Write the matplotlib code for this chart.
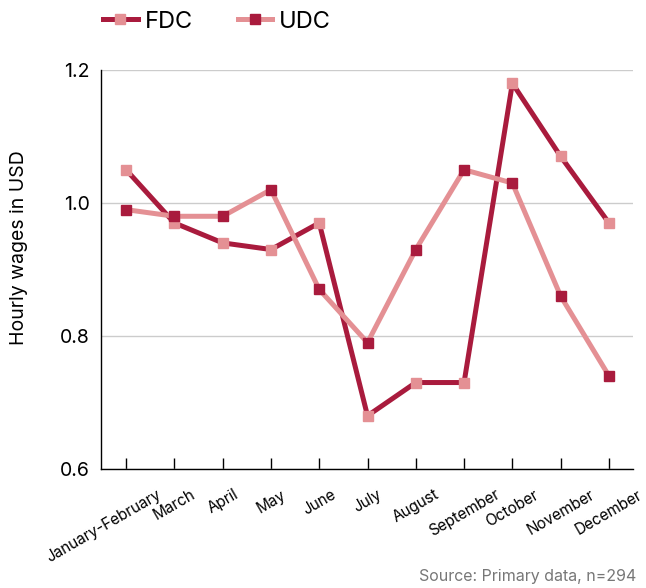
import matplotlib
matplotlib.use("Agg")
import matplotlib.pyplot as plt
from matplotlib.lines import Line2D
import matplotlib.transforms as mtransforms

months = ["January-February", "March", "April", "May", "June", "July",
          "August", "September", "October", "November", "December"]
fdc = [1.05, 0.97, 0.94, 0.93, 0.97, 0.68, 0.73, 0.73, 1.18, 1.07, 0.97]
udc = [0.99, 0.98, 0.98, 1.02, 0.87, 0.79, 0.93, 1.05, 1.03, 0.86, 0.74]
yticks = [0.6, 0.8, 1.0, 1.2]

DARK = "#A91B3D"
PINK = "#E49094"

plt.rcParams["font.family"] = ["Inter", "DejaVu Sans"]

fig = plt.figure(figsize=(6.46, 5.88), dpi=100)
ax = fig.add_axes([0.1563, 0.2024, 0.8237, 0.6786])

x = list(range(len(months)))
ax.plot(x, fdc, color=DARK, lw=3.6, marker="s", ms=7.5,
        mfc=PINK, mec=PINK, zorder=3)
ax.plot(x, udc, color=PINK, lw=3.6, marker="s", ms=7.5,
        mfc=DARK, mec=DARK, zorder=3)

ax.set_xlim(-0.52, 10.5)
ax.set_ylim(0.6, 1.2)
ax.set_yticks(yticks)
ax.set_yticklabels([f"{v:.1f}" for v in yticks], fontsize=14)
ax.tick_params(axis="y", length=0, pad=8)
ax.yaxis.grid(True, color="#cccccc", lw=1)
ax.set_axisbelow(True)

ax.set_xticks(x)
ax.set_xticklabels(months, fontsize=11, rotation=30, ha="center")
ax.tick_params(axis="x", direction="in", length=8, width=1, pad=13)
# pull the long first label a little to the left
shift = mtransforms.ScaledTranslation(-22 / 100, 0, fig.dpi_scale_trans)
first = ax.get_xticklabels()[0]
first.set_transform(first.get_transform() + shift)

for side in ["top", "right"]:
    ax.spines[side].set_visible(False)
ax.spines["left"].set_linewidth(1)
ax.spines["bottom"].set_linewidth(1)

ax.set_ylabel("Hourly wages in USD", fontsize=14)
ax.yaxis.set_label_coords(-0.137, 0.556)

handles = [
    Line2D([], [], color=DARK, lw=3.6, marker="s", ms=7.5, mfc=PINK, mec=PINK),
    Line2D([], [], color=PINK, lw=3.6, marker="s", ms=7.5, mfc=DARK, mec=DARK),
]
fig.legend(handles, ["FDC", "UDC"], loc="center left",
           bbox_to_anchor=(0.127, 0.963), ncol=2, frameon=False,
           fontsize=17, handlelength=1.45, handletextpad=0.3,
           columnspacing=1.9)

fig.text(0.985, 0.006, "Source: Primary data, n=294", ha="right",
         va="bottom", fontsize=11.5, color="#777777")

fig.savefig("out.png", dpi=100)
